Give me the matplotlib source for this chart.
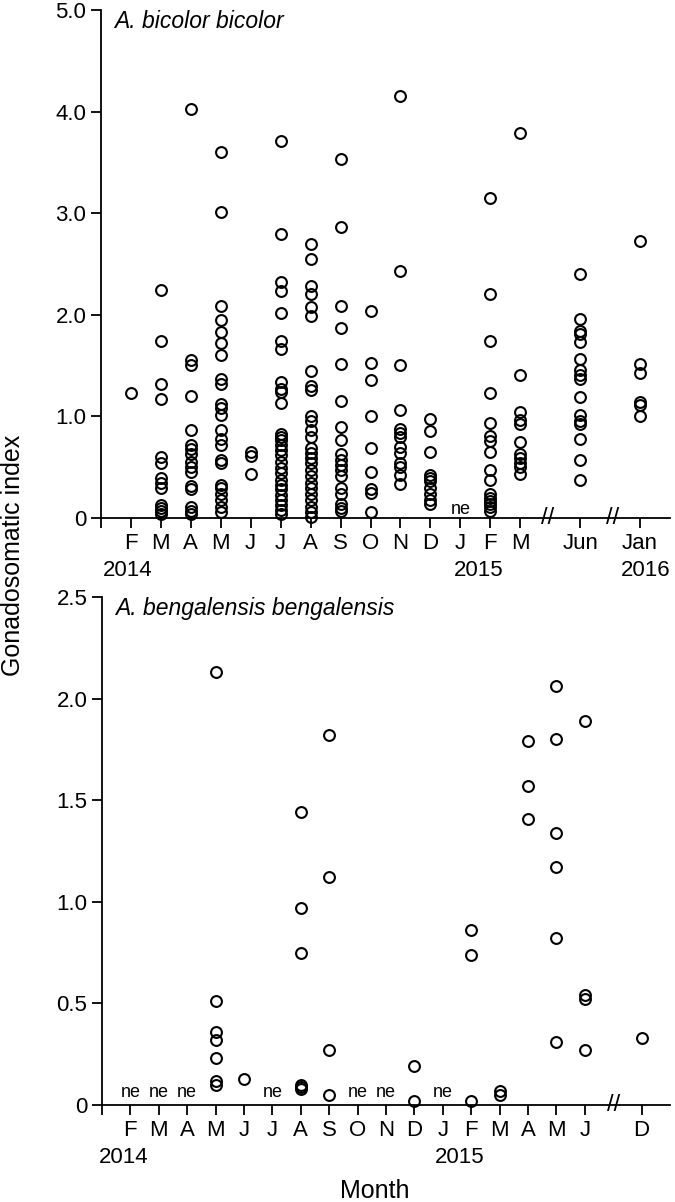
import numpy as np
import matplotlib
matplotlib.use("Agg")
import matplotlib.pyplot as plt

plt.rcParams['font.family'] = ['Liberation Sans', 'DejaVu Sans']

# A. bicolor bicolor - GSI per month (Feb 2014 ... Jan 2016)
bb_months = ['F', 'M', 'A', 'M', 'J', 'J', 'A', 'S', 'O', 'N', 'D', 'J', 'F', 'M', 'Jun', 'Jan']
bb_feb14 = [1.23]
bb_mar14 = [2.24, 1.74, 1.32, 1.17, 0.60, 0.54, 0.39, 0.34, 0.29, 0.13, 0.10, 0.07, 0.04]
bb_apr14 = [4.03, 1.55, 1.51, 1.20, 0.87, 0.72, 0.68, 0.63, 0.55, 0.50, 0.45, 0.31, 0.28, 0.11, 0.07, 0.04]
bb_may14 = [3.60, 3.01, 2.09, 1.95, 1.83, 1.72, 1.60, 1.37, 1.32, 1.12, 1.08, 1.01, 0.87, 0.78,
            0.72, 0.57, 0.54, 0.32, 0.29, 0.24, 0.18, 0.11, 0.06]
bb_jun14 = [0.65, 0.61, 0.43]
bb_jul14 = [3.71, 2.79, 2.32, 2.23, 2.02, 1.74, 1.66, 1.34, 1.27, 1.24, 1.13, 0.83, 0.80, 0.77,
            0.72, 0.67, 0.62, 0.55, 0.49, 0.44, 0.37, 0.32, 0.28, 0.23, 0.18, 0.13, 0.08, 0.04]
bb_aug14 = [2.70, 2.55, 2.28, 2.20, 2.08, 1.99, 1.45, 1.30, 1.26, 1.00, 0.95, 0.87, 0.80, 0.69,
            0.64, 0.59, 0.54, 0.47, 0.41, 0.34, 0.29, 0.24, 0.18, 0.11, 0.06, 0.01]
bb_sep14 = [3.53, 2.86, 2.09, 1.87, 1.52, 1.15, 0.90, 0.77, 0.63, 0.57, 0.52, 0.47, 0.41, 0.29,
            0.24, 0.14, 0.10, 0.07]
bb_oct14 = [2.04, 1.53, 1.36, 1.00, 0.69, 0.45, 0.28, 0.25, 0.06]
bb_nov14 = [4.15, 2.43, 1.51, 1.06, 0.88, 0.84, 0.80, 0.70, 0.64, 0.54, 0.50, 0.42, 0.33]
bb_dec14 = [0.97, 0.86, 0.65, 0.42, 0.39, 0.36, 0.29, 0.24, 0.18, 0.14]
bb_jan15 = []  # not examined
bb_feb15 = [3.15, 2.20, 1.74, 1.23, 0.93, 0.81, 0.76, 0.65, 0.47, 0.37, 0.24, 0.20, 0.17, 0.14, 0.11, 0.07]
bb_mar15 = [3.79, 1.41, 1.04, 0.96, 0.92, 0.75, 0.63, 0.59, 0.54, 0.50, 0.43]
bb_jun15 = [2.40, 1.96, 1.84, 1.81, 1.73, 1.56, 1.46, 1.41, 1.37, 1.19, 1.01, 0.95, 0.92, 0.78, 0.57, 0.37]
bb_jan16 = [2.73, 1.52, 1.43, 1.14, 1.11, 1.00]

# A. bengalensis bengalensis - GSI per month (Feb 2014 ... Dec 2015)
ab_months = ['F', 'M', 'A', 'M', 'J', 'J', 'A', 'S', 'O', 'N', 'D', 'J', 'F', 'M', 'A', 'M', 'J', 'D']
ab_feb14 = []
ab_mar14 = []
ab_apr14 = []
ab_may14 = [2.13, 0.51, 0.36, 0.32, 0.23, 0.12, 0.10]
ab_jun14 = [0.13]
ab_jul14 = []
ab_aug14 = [1.44, 0.97, 0.75, 0.10, 0.09, 0.08]
ab_sep14 = [1.82, 1.12, 0.27, 0.05]
ab_oct14 = []
ab_nov14 = []
ab_dec14 = [0.19, 0.02]
ab_jan15 = []
ab_feb15 = [0.86, 0.74, 0.02]
ab_mar15 = [0.07, 0.05]
ab_apr15 = [1.79, 1.57, 1.41]
ab_may15 = [2.06, 1.80, 1.34, 1.17, 0.82, 0.31]
ab_jun15 = [1.89, 0.54, 0.52, 0.27]
ab_dec15 = [0.33]

bb_data = [bb_feb14, bb_mar14, bb_apr14, bb_may14, bb_jun14, bb_jul14, bb_aug14, bb_sep14,
           bb_oct14, bb_nov14, bb_dec14, bb_jan15, bb_feb15, bb_mar15, bb_jun15, bb_jan16]
ab_data = [ab_feb14, ab_mar14, ab_apr14, ab_may14, ab_jun14, ab_jul14, ab_aug14, ab_sep14,
           ab_oct14, ab_nov14, ab_dec14, ab_jan15, ab_feb15, ab_mar15, ab_apr15, ab_may15,
           ab_jun15, ab_dec15]

# x positions: consecutive months, skip one slot where the axis is broken
bb_pos = list(range(1, 15)) + [16, 18]
ab_pos = list(range(1, 18)) + [19]

fig = plt.figure(figsize=(6.75, 12.02), dpi=100)
ax1 = fig.add_axes([0.1496, 0.5691, 0.843, 0.4226])
ax2 = fig.add_axes([0.1511, 0.0807, 0.8415, 0.4226])

TICK_FS = 16


def draw_panel(ax, pos, data, months, xmax, ymax, yticks, ylabels, title, breaks, years, ne_y):
    for p, vals in zip(pos, data):
        if len(vals) == 0:
            ax.text(p, ne_y, 'ne', ha='center', va='center', fontsize=13)
            continue
        ax.plot(np.full(len(vals), p), vals, 'o', mfc='none', mec='black',
                mew=1.5, ms=7.8, clip_on=False, zorder=3)
    ax.set_xlim(0, xmax)
    ax.set_ylim(0, ymax)
    for s in ['top', 'right']:
        ax.spines[s].set_visible(False)
    for s in ['left', 'bottom']:
        ax.spines[s].set_linewidth(1.3)
    ax.set_xticks([0] + pos)
    ax.set_xticklabels([''] + months)
    ax.set_yticks(yticks)
    ax.set_yticklabels(ylabels)
    ax.tick_params(direction='out', length=7.5, width=1.3, labelsize=TICK_FS, pad=3)
    ax.text(0.023, 1.0, title, style='italic', fontsize=16.5, transform=ax.transAxes,
            ha='left', va='top')
    trans = ax.get_xaxis_transform()
    for b in breaks:
        ax.text(b, 0, '//', ha='center', va='center', fontsize=17, transform=trans)
    for x, yr in years:
        ax.annotate(yr, xy=(x, 0), xycoords=trans, xytext=(0, -41.5),
                    textcoords='offset points', ha='center', va='baseline', fontsize=TICK_FS)


draw_panel(ax1, bb_pos, bb_data, bb_months, 19, 5.0,
           [0, 1, 2, 3, 4, 5], ['0', '1.0', '2.0', '3.0', '4.0', '5.0'],
           'A. bicolor bicolor', [14.9, 17.1],
           [(0.9, '2014'), (12.6, '2015'), (18.2, '2016')], 0.08)
draw_panel(ax2, ab_pos, ab_data, ab_months, 20, 2.5,
           [0, 0.5, 1.0, 1.5, 2.0, 2.5], ['0', '0.5', '1.0', '1.5', '2.0', '2.5'],
           'A. bengalensis bengalensis', [18],
           [(0.78, '2014'), (12.6, '2015')], 0.06)

fig.text(0.02, 0.538, 'Gonadosomatic index', rotation=90, ha='center', va='center', fontsize=18)
fig.text(0.555, 0.003, 'Month', ha='center', va='baseline', fontsize=18)

fig.savefig('out.png', dpi=100)
